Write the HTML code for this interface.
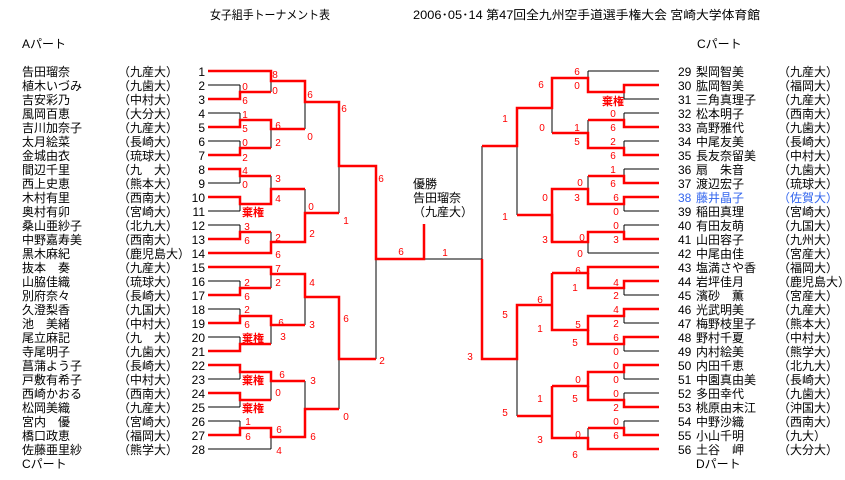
<!DOCTYPE html>
<html><head><meta charset="utf-8"><style>
html,body{margin:0;padding:0;background:#fff;width:845px;height:480px;overflow:hidden}
svg{display:block}
text{font-family:"Liberation Sans","Noto Sans CJK JP",sans-serif}
.n{font-size:12px;fill:#000}
.s{font-size:10px;fill:#f00}
.k{font-size:11px;fill:#f00;font-weight:bold}
</style></head><body>
<svg id="sv" width="845" height="480" xmlns="http://www.w3.org/2000/svg">
<g id="lines"></g>
<text x="210" y="19" class="n" font-size="11" textLength="120" lengthAdjust="spacingAndGlyphs">女子組手トーナメント表</text>
<text x="413" y="19" class="n" font-size="11" textLength="347" lengthAdjust="spacingAndGlyphs">2006･05･14  第47回全九州空手道選手権大会  宮崎大学体育館</text>
<text x="22" y="48" class="n" font-size="11">Aパート</text>
<text x="697" y="48" class="n" font-size="11">Cパート</text>
<text x="22" y="468" class="n">Cパート</text>
<text x="696" y="468" class="n">Dパート</text>
<g class="n">
<text x="22" y="76">告田瑠奈</text><text x="118" y="76">（九産大）</text><text x="205" y="76" text-anchor="end">1</text>
<text x="22" y="90">植木いづみ</text><text x="118" y="90">（九歯大）</text><text x="205" y="90" text-anchor="end">2</text>
<text x="22" y="104">吉安彩乃</text><text x="118" y="104">（中村大）</text><text x="205" y="104" text-anchor="end">3</text>
<text x="22" y="118">風岡百恵</text><text x="118" y="118">（大分大）</text><text x="205" y="118" text-anchor="end">4</text>
<text x="22" y="132">吉川加奈子</text><text x="118" y="132">（九産大）</text><text x="205" y="132" text-anchor="end">5</text>
<text x="22" y="146">太月絵菜</text><text x="118" y="146">（長崎大）</text><text x="205" y="146" text-anchor="end">6</text>
<text x="22" y="160">金城由衣</text><text x="118" y="160">（琉球大）</text><text x="205" y="160" text-anchor="end">7</text>
<text x="22" y="174">間辺千里</text><text x="118" y="174">（九　大）</text><text x="205" y="174" text-anchor="end">8</text>
<text x="22" y="188">西上史恵</text><text x="118" y="188">（熊本大）</text><text x="205" y="188" text-anchor="end">9</text>
<text x="22" y="202">木村有里</text><text x="118" y="202">（西南大）</text><text x="205" y="202" text-anchor="end">10</text>
<text x="22" y="216">奥村有卯</text><text x="118" y="216">（宮崎大）</text><text x="205" y="216" text-anchor="end">11</text>
<text x="22" y="230">桑山亜紗子</text><text x="118" y="230">（北九大）</text><text x="205" y="230" text-anchor="end">12</text>
<text x="22" y="244">中野嘉寿美</text><text x="118" y="244">（西南大）</text><text x="205" y="244" text-anchor="end">13</text>
<text x="22" y="258">黒木麻紀</text><text x="118" y="258">（鹿児島大）</text><text x="205" y="258" text-anchor="end">14</text>
<text x="22" y="272">抜本　奏</text><text x="118" y="272">（九産大）</text><text x="205" y="272" text-anchor="end">15</text>
<text x="22" y="286">山脇佳織</text><text x="118" y="286">（琉球大）</text><text x="205" y="286" text-anchor="end">16</text>
<text x="22" y="300">別府奈々</text><text x="118" y="300">（長崎大）</text><text x="205" y="300" text-anchor="end">17</text>
<text x="22" y="314">久澄梨香</text><text x="118" y="314">（九国大）</text><text x="205" y="314" text-anchor="end">18</text>
<text x="22" y="328">池　美緒</text><text x="118" y="328">（中村大）</text><text x="205" y="328" text-anchor="end">19</text>
<text x="22" y="342">尾立麻記</text><text x="118" y="342">（九　大）</text><text x="205" y="342" text-anchor="end">20</text>
<text x="22" y="356">寺尾明子</text><text x="118" y="356">（九歯大）</text><text x="205" y="356" text-anchor="end">21</text>
<text x="22" y="370">菖蒲よう子</text><text x="118" y="370">（長崎大）</text><text x="205" y="370" text-anchor="end">22</text>
<text x="22" y="384">戸敷有希子</text><text x="118" y="384">（中村大）</text><text x="205" y="384" text-anchor="end">23</text>
<text x="22" y="398">西崎かおる</text><text x="118" y="398">（西南大）</text><text x="205" y="398" text-anchor="end">24</text>
<text x="22" y="412">松岡美織</text><text x="118" y="412">（九産大）</text><text x="205" y="412" text-anchor="end">25</text>
<text x="22" y="426">宮内　優</text><text x="118" y="426">（宮崎大）</text><text x="205" y="426" text-anchor="end">26</text>
<text x="22" y="440">橋口政恵</text><text x="118" y="440">（福岡大）</text><text x="205" y="440" text-anchor="end">27</text>
<text x="22" y="454">佐藤亜里紗</text><text x="118" y="454">（熊学大）</text><text x="205" y="454" text-anchor="end">28</text>

<text x="678" y="76">29</text><text x="696" y="76">梨岡智美</text><text x="778" y="76">（九産大）</text>
<text x="678" y="90">30</text><text x="696" y="90">肱岡智美</text><text x="778" y="90">（福岡大）</text>
<text x="678" y="104">31</text><text x="696" y="104">三角真理子</text><text x="778" y="104">（九産大）</text>
<text x="678" y="118">32</text><text x="696" y="118">松本明子</text><text x="778" y="118">（西南大）</text>
<text x="678" y="132">33</text><text x="696" y="132">高野雅代</text><text x="778" y="132">（九歯大）</text>
<text x="678" y="146">34</text><text x="696" y="146">中尾友美</text><text x="778" y="146">（長崎大）</text>
<text x="678" y="160">35</text><text x="696" y="160">長友奈留美</text><text x="778" y="160">（中村大）</text>
<text x="678" y="174">36</text><text x="696" y="174">扇　朱音</text><text x="778" y="174">（九歯大）</text>
<text x="678" y="188">37</text><text x="696" y="188">渡辺宏子</text><text x="778" y="188">（琉球大）</text>
<text x="678" y="202" fill="#3366ee">38</text><text x="696" y="202" fill="#3366ee">藤井晶子</text><text x="778" y="202" fill="#3366ee">（佐賀大）</text>
<text x="678" y="216">39</text><text x="696" y="216">稲田真理</text><text x="778" y="216">（宮崎大）</text>
<text x="678" y="230">40</text><text x="696" y="230">有田友萌</text><text x="778" y="230">（九国大）</text>
<text x="678" y="244">41</text><text x="696" y="244">山田容子</text><text x="778" y="244">（九州大）</text>
<text x="678" y="258">42</text><text x="696" y="258">中尾由佳</text><text x="778" y="258">（宮産大）</text>
<text x="678" y="272">43</text><text x="696" y="272">塩満さや香</text><text x="778" y="272">（福岡大）</text>
<text x="678" y="286">44</text><text x="696" y="286">岩坪佳月</text><text x="778" y="286">（鹿児島大）</text>
<text x="678" y="300">45</text><text x="696" y="300">濱砂　薫</text><text x="778" y="300">（宮産大）</text>
<text x="678" y="314">46</text><text x="696" y="314">光武明美</text><text x="778" y="314">（九産大）</text>
<text x="678" y="328">47</text><text x="696" y="328">梅野枝里子</text><text x="778" y="328">（熊本大）</text>
<text x="678" y="342">48</text><text x="696" y="342">野村千夏</text><text x="778" y="342">（中村大）</text>
<text x="678" y="356">49</text><text x="696" y="356">内村絵美</text><text x="778" y="356">（熊学大）</text>
<text x="678" y="370">50</text><text x="696" y="370">内田千恵</text><text x="778" y="370">（北九大）</text>
<text x="678" y="384">51</text><text x="696" y="384">中園真由美</text><text x="778" y="384">（長崎大）</text>
<text x="678" y="398">52</text><text x="696" y="398">多田幸代</text><text x="778" y="398">（九歯大）</text>
<text x="678" y="412">53</text><text x="696" y="412">桃原由末江</text><text x="778" y="412">（沖国大）</text>
<text x="678" y="426">54</text><text x="696" y="426">中野沙織</text><text x="778" y="426">（西南大）</text>
<text x="678" y="440">55</text><text x="696" y="440">小山千明</text><text x="778" y="440">（九大）</text>
<text x="678" y="454">56</text><text x="696" y="454">土谷　岬</text><text x="778" y="454">（大分大）</text>

<text x="413" y="188">優勝</text>
<text x="413" y="202">告田瑠奈</text>
<text x="413" y="216">（九産大）</text>
</g>
<g class="s" text-anchor="middle">
<text x="275" y="78">8</text><text x="275" y="94">0</text><text x="245" y="90">0</text><text x="245" y="104">6</text>
<text x="310" y="98">6</text><text x="344" y="112">6</text><text x="245" y="118">1</text><text x="245" y="132">5</text>
<text x="278" y="129">6</text><text x="310" y="140">0</text><text x="245" y="146">0</text><text x="245" y="161">2</text>
<text x="278" y="146">2</text><text x="381" y="182">6</text><text x="245" y="174">4</text><text x="245" y="188">0</text>
<text x="278" y="182">3</text><text x="278" y="202">4</text><text x="311" y="210">0</text><text x="346" y="224">1</text>
<text x="247" y="230">3</text><text x="247" y="244">6</text><text x="278" y="241">2</text><text x="312" y="237">2</text>
<text x="278" y="258">6</text><text x="401" y="255">6</text>
<text x="278" y="272">7</text><text x="278" y="286">2</text><text x="312" y="286">4</text><text x="247" y="286">2</text>
<text x="247" y="300">6</text><text x="247" y="313">2</text><text x="247" y="328">6</text><text x="281" y="326">6</text>
<text x="312" y="328">3</text><text x="283" y="340">3</text><text x="346" y="322">6</text><text x="382" y="364">2</text>
<text x="282" y="378">6</text><text x="313" y="384">3</text><text x="278" y="396">0</text><text x="346" y="420">0</text>
<text x="248" y="425">1</text><text x="248" y="440">6</text><text x="279" y="433">6</text><text x="313" y="440">6</text>
<text x="279" y="454">4</text>
<text x="445" y="256">1</text><text x="505" y="220">1</text><text x="505" y="318">5</text><text x="470" y="360">3</text>
<text x="577" y="75">6</text><text x="577" y="89">0</text><text x="541" y="88">6</text><text x="505" y="122">1</text>
<text x="613" y="117">0</text><text x="613" y="131">6</text><text x="542" y="131">0</text><text x="577" y="131">1</text>
<text x="577" y="145">5</text><text x="613" y="145">2</text><text x="613" y="159">6</text><text x="613" y="173">1</text>
<text x="613" y="187">6</text><text x="580" y="186">0</text><text x="545" y="201">0</text><text x="577" y="201">3</text>
<text x="616" y="201">6</text><text x="616" y="215">0</text><text x="616" y="229">0</text><text x="616" y="243">3</text>
<text x="582" y="241">0</text><text x="545" y="243">3</text><text x="580" y="257">0</text>
<text x="578" y="274">6</text><text x="616" y="286">4</text><text x="616" y="299">2</text><text x="575" y="291">1</text>
<text x="540" y="303">6</text><text x="616" y="313">4</text><text x="616" y="327">2</text><text x="578" y="328">5</text>
<text x="540" y="332">1</text><text x="616" y="341">6</text><text x="575" y="346">5</text><text x="616" y="355">0</text>
<text x="616" y="369">0</text><text x="616" y="383">0</text><text x="578" y="383">0</text><text x="540" y="402">1</text>
<text x="616" y="397">0</text><text x="575" y="402">5</text><text x="616" y="411">2</text><text x="505" y="416">5</text>
<text x="616" y="425">0</text><text x="616" y="439">6</text><text x="578" y="438">0</text><text x="540" y="443">3</text>
<text x="575" y="458">6</text>
</g>
<g class="k" text-anchor="middle">
<text x="253" y="216">棄権</text><text x="253" y="342">棄権</text><text x="253" y="384">棄権</text><text x="253" y="412">棄権</text>
<text x="613" y="105">棄権</text>
</g>
</svg>
<script>
(function(){
var g=document.getElementById('lines');var NS='http://www.w3.org/2000/svg';
function pl(pts,red){var p=document.createElementNS(NS,'polyline');p.setAttribute('points',pts.map(function(a){return a.join(',')}).join(' '));p.setAttribute('fill','none');p.setAttribute('stroke',red?'#ff0000':'#000');p.setAttribute('stroke-width',red?2.5:1);g.appendChild(p);}
function Y(i){if(i>28)i-=28;return 71+(i-1)*14;}
var lb=[1,14,15,28];
for(var i=1;i<=28;i++){pl([[208,Y(i)],[lb.indexOf(i)>=0?271:240,Y(i)]]);}
var rb=[29,42,43,56];
for(var i=29;i<=56;i++){pl([[659,Y(i)],[rb.indexOf(i)>=0?588:624,Y(i)]]);}
function V(x,a,b,o,x2){pl([[x,a],[x,b]]);pl([[x,o],[x2,o]]);}
[[2,3],[4,5],[6,7],[8,9],[10,11],[12,13],[16,17],[18,19],[20,21],[22,23],[24,25],[26,27]].forEach(function(p){var a=Y(p[0]),b=Y(p[1]);V(240,a,b,(a+b)/2,271);});
[[30,31],[32,33],[34,35],[36,37],[38,39],[40,41],[44,45],[46,47],[48,49],[50,51],[52,53],[54,55]].forEach(function(p){var a=Y(p[0]),b=Y(p[1]);V(624,a,b,(a+b)/2,588);});
[[71,92,81],[120,148,129],[176,204,189],[232,253,242],[267,288,274],[316,344,325],[372,400,381],[428,449,437]].forEach(function(v){V(271,v[0],v[1],v[2],305);});
[[81,129,102],[189,242,213],[274,325,297],[381,437,409]].forEach(function(v){V(305,v[0],v[1],v[2],339);});
[[102,213,166],[297,409,359]].forEach(function(v){V(339,v[0],v[1],v[2],376);});
V(376,166,359,259,482);
pl([[482,146],[482,359]]);
[[108,215,146],[305,416,359]].forEach(function(v){V(517,v[0],v[1],v[2],482);});
[[78,133,108],[189,242,215],[273,330,305],[386,438,416]].forEach(function(v){V(552,v[0],v[1],v[2],517);});
[[71,92,78],[120,148,133],[176,204,189],[232,253,242],[267,288,273],[316,344,330],[372,400,386],[428,449,438]].forEach(function(v){V(588,v[0],v[1],v[2],552);});
var R=[
[[208,71],[271,71],[271,81],[305,81],[305,102],[339,102],[339,166],[376,166],[376,259],[424,259],[424,224]],
[[208,99],[240,99],[240,92],[271,92]],
[[208,127],[240,127],[240,120],[271,120],[271,129],[305,129]],
[[208,155],[240,155],[240,148],[271,148]],
[[208,169],[240,169],[240,176],[271,176]],
[[208,197],[240,197],[240,204],[271,204],[271,189],[305,189]],
[[208,239],[240,239],[240,232],[271,232]],
[[208,253],[271,253],[271,242],[305,242],[305,213],[339,213]],
[[208,267],[271,267],[271,274],[305,274],[305,297],[339,297],[339,359],[376,359]],
[[208,295],[240,295],[240,288],[271,288]],
[[208,323],[240,323],[240,316],[271,316],[271,325],[305,325]],
[[208,351],[240,351],[240,344],[271,344]],
[[208,365],[240,365],[240,372],[271,372],[271,381],[305,381]],
[[208,393],[240,393],[240,400],[271,400]],
[[208,435],[240,435],[240,428],[271,428],[271,437],[305,437],[305,409],[339,409]],
[[659,85],[624,85],[624,92],[588,92],[588,78],[552,78],[552,108],[517,108],[517,146],[482,146]],
[[659,127],[624,127],[624,120],[588,120]],
[[659,155],[624,155],[624,148],[588,148],[588,133],[552,133]],
[[659,183],[624,183],[624,176],[588,176]],
[[659,197],[624,197],[624,204],[588,204],[588,189],[552,189],[552,242]],
[[659,239],[624,239],[624,232],[588,232],[588,242],[552,242],[552,215],[517,215]],
[[659,267],[588,267],[588,273],[552,273]],
[[659,281],[624,281],[624,288],[588,288],[588,273]],
[[659,309],[624,309],[624,316],[588,316],[588,330],[552,330],[552,273]],
[[659,337],[624,337],[624,344],[588,344],[588,330]],
[[552,305],[517,305],[517,359],[482,359],[482,259]],
[[659,365],[624,365],[624,372],[588,372],[588,386],[552,386]],
[[659,407],[624,407],[624,400],[588,400],[588,386]],
[[659,435],[624,435],[624,428],[588,428]],
[[659,449],[588,449],[588,438],[552,438],[552,386]],
[[552,416],[517,416]]
];
R.forEach(function(r){pl(r,true);});
})();
</script>
</body></html>
